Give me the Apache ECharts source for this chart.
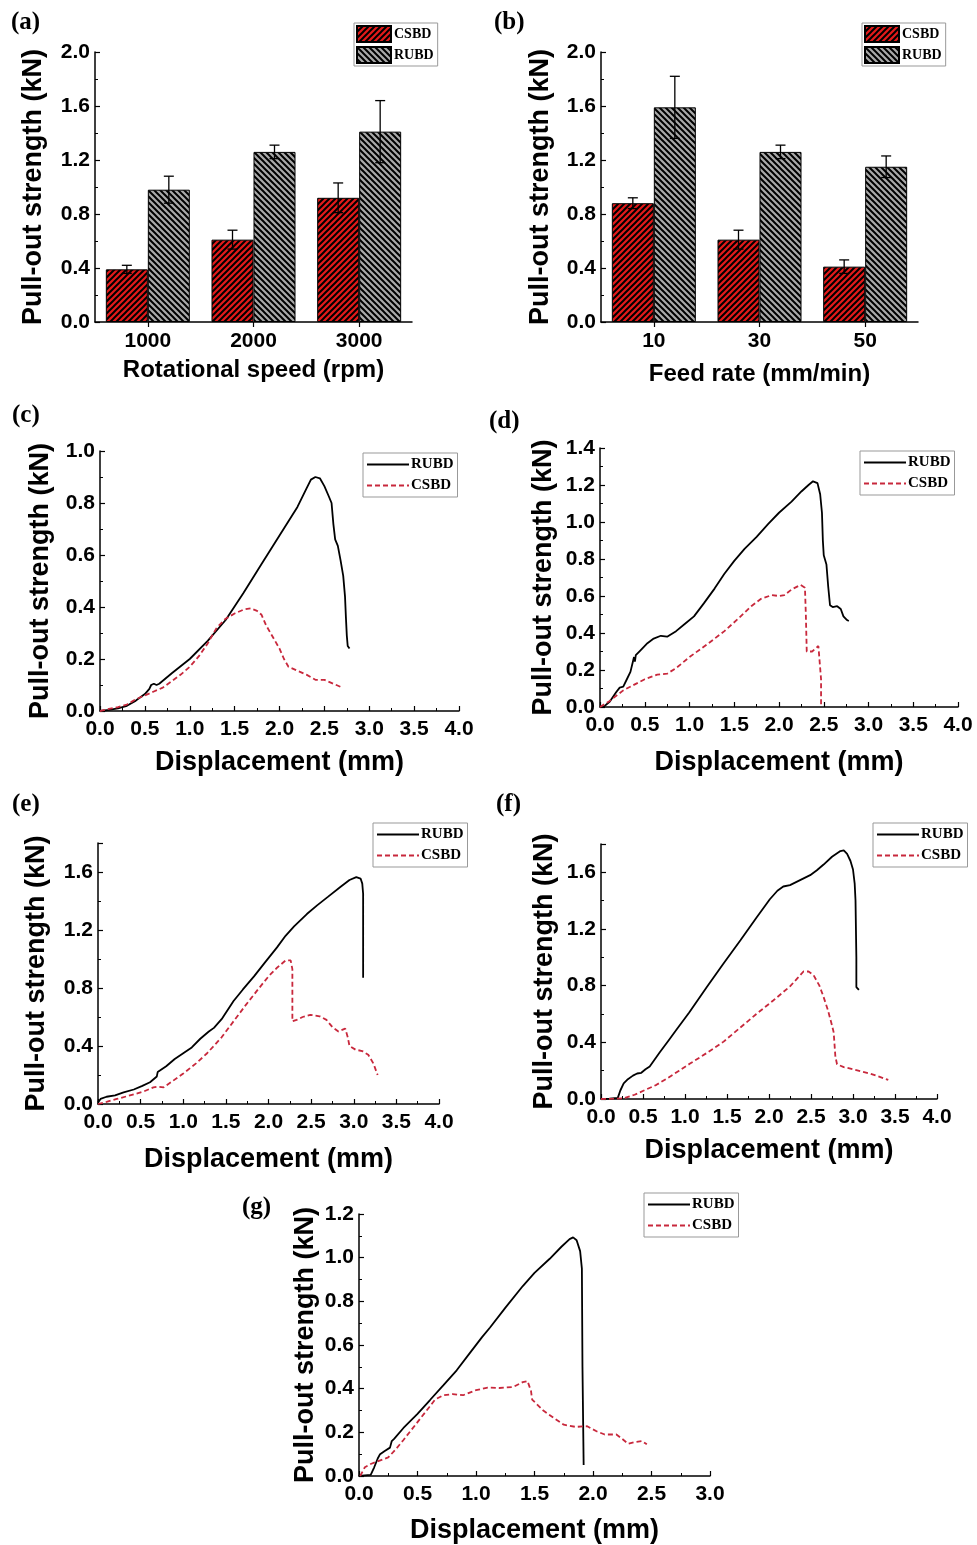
<!DOCTYPE html>
<html>
<head>
<meta charset="utf-8">
<script src="https://cdn.jsdelivr.net/npm/echarts@6/dist/echarts.min.js"></script>
<style>
  html, body { margin: 0; padding: 0; background: #fff; }
  #main { width: 977px; height: 1545px; }
</style>
</head>
<body>
<div id="main"></div>
<script>
// ---- data ----
var speedCats = ['1000', '2000', '3000'];
var speedCSBD = [0.39, 0.61, 0.92];
var speedCSBDErr = [0.03, 0.07, 0.11];
var speedRUBD = [0.98, 1.26, 1.41];
var speedRUBDErr = [0.10, 0.05, 0.23];

var feedCats = ['10', '30', '50'];
var feedCSBD = [0.88, 0.61, 0.41];
var feedCSBDErr = [0.04, 0.07, 0.05];
var feedRUBD = [1.59, 1.26, 1.15];
var feedRUBDErr = [0.23, 0.05, 0.08];

var rubdC = [[0,0],[0.1,0.004],[0.2,0.01],[0.3,0.02],[0.4,0.04],[0.5,0.065],[0.55,0.085],[0.57,0.1],[0.6,0.105],[0.63,0.1],[0.66,0.105],[0.8,0.145],[1.0,0.2],[1.2,0.27],[1.4,0.35],[1.6,0.455],[1.8,0.565],[2.0,0.675],[2.2,0.785],[2.3,0.855],[2.35,0.89],[2.4,0.9],[2.45,0.895],[2.5,0.865],[2.55,0.825],[2.58,0.8],[2.6,0.72],[2.62,0.66],[2.65,0.635],[2.68,0.58],[2.71,0.52],[2.73,0.44],[2.74,0.36],[2.75,0.29],[2.76,0.25],[2.78,0.24]];
var csbdC = [[0,0],[0.1,0.008],[0.2,0.015],[0.3,0.025],[0.4,0.045],[0.5,0.06],[0.6,0.075],[0.7,0.09],[0.8,0.115],[0.9,0.14],[1.0,0.17],[1.1,0.21],[1.2,0.26],[1.3,0.32],[1.4,0.355],[1.5,0.375],[1.6,0.39],[1.68,0.395],[1.75,0.385],[1.8,0.37],[1.85,0.33],[1.9,0.3],[2.0,0.24],[2.05,0.2],[2.1,0.17],[2.2,0.155],[2.3,0.14],[2.4,0.12],[2.5,0.12],[2.6,0.105],[2.7,0.09]];

var rubdD = [[0,0],[0.05,0.005],[0.11,0.03],[0.18,0.08],[0.22,0.105],[0.26,0.11],[0.3,0.15],[0.34,0.19],[0.37,0.25],[0.38,0.27],[0.39,0.245],[0.4,0.28],[0.45,0.305],[0.53,0.345],[0.6,0.37],[0.68,0.385],[0.75,0.38],[0.85,0.41],[0.95,0.45],[1.05,0.49],[1.16,0.56],[1.28,0.64],[1.39,0.72],[1.5,0.79],[1.615,0.855],[1.75,0.92],[1.88,0.99],[2.0,1.05],[2.14,1.11],[2.25,1.165],[2.33,1.2],[2.38,1.22],[2.43,1.21],[2.46,1.15],[2.48,1.05],[2.49,0.9],[2.5,0.82],[2.53,0.77],[2.55,0.65],[2.57,0.55],[2.6,0.54],[2.65,0.545],[2.69,0.53],[2.72,0.49],[2.76,0.47],[2.78,0.465]];
var csbdD = [[0,0],[0.1,0.03],[0.26,0.09],[0.4,0.125],[0.5,0.15],[0.64,0.175],[0.75,0.18],[0.85,0.21],[1.0,0.27],[1.2,0.34],[1.39,0.41],[1.55,0.48],[1.69,0.545],[1.8,0.585],[1.92,0.605],[2.0,0.6],[2.06,0.605],[2.14,0.635],[2.24,0.66],[2.29,0.645],[2.3,0.5],[2.31,0.3],[2.37,0.3],[2.44,0.33],[2.46,0.325],[2.47,0.15],[2.47,0]];

var rubdE = [[0,0.01],[0.03,0.035],[0.1,0.05],[0.2,0.06],[0.3,0.08],[0.42,0.1],[0.52,0.125],[0.61,0.15],[0.69,0.19],[0.7,0.22],[0.72,0.215],[0.8,0.26],[0.9,0.31],[1.0,0.35],[1.1,0.39],[1.2,0.45],[1.3,0.5],[1.36,0.525],[1.45,0.585],[1.59,0.71],[1.7,0.79],[1.83,0.88],[1.95,0.97],[2.1,1.08],[2.2,1.16],[2.3,1.225],[2.45,1.31],[2.57,1.37],[2.7,1.43],[2.85,1.5],[2.95,1.545],[3.03,1.565],[3.08,1.555],[3.1,1.52],[3.11,1.45],[3.11,0.87]];
var csbdE = [[0,0],[0.1,0.015],[0.22,0.035],[0.35,0.055],[0.54,0.087],[0.65,0.115],[0.7,0.12],[0.77,0.115],[0.88,0.16],[1.0,0.21],[1.15,0.28],[1.28,0.35],[1.45,0.46],[1.59,0.57],[1.73,0.68],[1.87,0.785],[2.0,0.88],[2.1,0.94],[2.2,0.99],[2.26,0.99],[2.28,0.93],[2.28,0.57],[2.33,0.58],[2.4,0.6],[2.49,0.615],[2.6,0.605],[2.68,0.58],[2.75,0.53],[2.82,0.5],[2.9,0.52],[2.93,0.46],[2.95,0.4],[3.02,0.375],[3.1,0.365],[3.17,0.34],[3.23,0.28],[3.28,0.2]];

var rubdF = [[0,0],[0.1,0.002],[0.2,0.008],[0.23,0.06],[0.27,0.11],[0.32,0.14],[0.38,0.165],[0.43,0.18],[0.48,0.185],[0.53,0.21],[0.58,0.23],[0.7,0.33],[0.8,0.41],[0.9,0.49],[1.05,0.61],[1.26,0.79],[1.45,0.95],[1.66,1.12],[1.85,1.28],[2.01,1.41],[2.1,1.47],[2.17,1.5],[2.25,1.51],[2.37,1.545],[2.49,1.58],[2.57,1.615],[2.65,1.655],[2.75,1.71],[2.85,1.75],[2.89,1.755],[2.93,1.73],[2.97,1.68],[3.0,1.62],[3.02,1.52],[3.03,1.4],[3.04,1.0],[3.04,0.79],[3.07,0.77]];
var csbdF = [[0,0],[0.15,0.002],[0.27,0.005],[0.4,0.03],[0.53,0.065],[0.66,0.1],[0.8,0.15],[0.93,0.2],[1.06,0.25],[1.26,0.325],[1.46,0.405],[1.65,0.5],[1.85,0.6],[2.05,0.695],[2.25,0.795],[2.35,0.86],[2.41,0.9],[2.47,0.9],[2.53,0.875],[2.6,0.8],[2.65,0.72],[2.7,0.63],[2.75,0.52],[2.77,0.47],[2.79,0.3],[2.81,0.245],[2.89,0.225],[3.0,0.21],[3.1,0.195],[3.2,0.18],[3.3,0.16],[3.42,0.135]];

var rubdG = [[0,0],[0.05,0.003],[0.1,0.005],[0.13,0.04],[0.16,0.08],[0.18,0.1],[0.22,0.115],[0.265,0.13],[0.28,0.16],[0.3,0.17],[0.38,0.22],[0.5,0.285],[0.607,0.348],[0.72,0.415],[0.835,0.484],[0.95,0.565],[1.05,0.635],[1.12,0.68],[1.25,0.77],[1.4,0.87],[1.5,0.93],[1.63,0.995],[1.73,1.05],[1.8,1.085],[1.83,1.093],[1.86,1.08],[1.89,1.03],[1.905,0.95],[1.91,0.5],[1.92,0.05]];
var csbdG = [[0.01,0],[0.05,0.04],[0.1,0.055],[0.15,0.065],[0.2,0.075],[0.25,0.085],[0.31,0.12],[0.38,0.165],[0.49,0.24],[0.6,0.315],[0.65,0.35],[0.72,0.37],[0.8,0.375],[0.89,0.37],[1.0,0.393],[1.1,0.405],[1.2,0.403],[1.32,0.408],[1.4,0.43],[1.44,0.435],[1.47,0.39],[1.48,0.35],[1.575,0.3],[1.68,0.26],[1.75,0.235],[1.85,0.225],[1.95,0.228],[2.03,0.205],[2.1,0.19],[2.2,0.19],[2.25,0.17],[2.3,0.148],[2.35,0.155],[2.42,0.16],[2.46,0.145]];

// ---- styles ----
var SANS = 'Liberation Sans, Arial, sans-serif';
var SERIF = 'Liberation Serif, Times New Roman, serif';
var RED_LINE = '#c8283c';

function hatch(bg, forward) {
  var s = 6;
  var c = document.createElement('canvas');
  c.width = s; c.height = s;
  var ctx = c.getContext('2d');
  ctx.fillStyle = bg;
  ctx.fillRect(0, 0, s, s);
  ctx.strokeStyle = '#000';
  ctx.lineWidth = 2;
  ctx.beginPath();
  if (forward) {
    ctx.moveTo(0, s); ctx.lineTo(s, 0);
    ctx.moveTo(-1, 1); ctx.lineTo(1, -1);
    ctx.moveTo(s - 1, s + 1); ctx.lineTo(s + 1, s - 1);
  } else {
    ctx.moveTo(0, 0); ctx.lineTo(s, s);
    ctx.moveTo(s - 1, -1); ctx.lineTo(s + 1, 1);
    ctx.moveTo(-1, s - 1); ctx.lineTo(1, s + 1);
  }
  ctx.stroke();
  return { image: c, repeat: 'repeat' };
}
var redHatch = hatch('#e41a1a', true);
var grayHatch = hatch('#a9a9a9', false);

var grids = [
  { left: 95, top: 52, width: 317, height: 270 },
  { left: 601, top: 52, width: 317, height: 270 },
  { left: 100, top: 451, width: 359, height: 260 },
  { left: 600, top: 448, width: 358, height: 259 },
  { left: 98, top: 843, width: 341, height: 261 },
  { left: 601, top: 844, width: 336, height: 255 },
  { left: 359, top: 1214, width: 351, height: 264 }
];

var axisLine = { show: true, lineStyle: { color: '#000', width: 1.5 } };
var labelFont = { color: '#000', fontFamily: SANS, fontWeight: 'bold', fontSize: 21 };
var nameFont = { color: '#000', fontFamily: SANS, fontWeight: 'bold', fontSize: 27 };

function fmt(v) { return v.toFixed(1); }

function yAxisFor(i, max, interval, gap, hideMax) {
  return {
    type: 'value', gridIndex: i, min: 0, max: max, interval: interval,
    name: 'Pull-out strength (kN)', nameLocation: 'middle', nameGap: gap,
    nameTextStyle: nameFont,
    axisLine: axisLine,
    axisTick: { show: true, inside: true, length: 5, lineStyle: { color: '#000', width: 1.2 } },
    minorTick: { show: true, splitNumber: 2, length: 3, lineStyle: { color: '#000', width: 1 } },
    axisLabel: Object.assign({ margin: 5, formatter: fmt, showMaxLabel: !hideMax }, labelFont),
    splitLine: { show: false }
  };
}

function xDispAxis(i, max, gap) {
  return {
    type: 'value', gridIndex: i, min: 0, max: max, interval: 0.5,
    name: 'Displacement (mm)', nameLocation: 'middle', nameGap: gap,
    nameTextStyle: nameFont,
    axisLine: axisLine,
    axisTick: { show: true, inside: true, length: 5, lineStyle: { color: '#000', width: 1.2 } },
    minorTick: { show: true, splitNumber: 2, length: 3, lineStyle: { color: '#000', width: 1 } },
    axisLabel: Object.assign({ margin: 8, formatter: fmt }, labelFont),
    splitLine: { show: false }
  };
}

function xCatAxis(i, cats, name, gap) {
  return {
    type: 'category', gridIndex: i, data: cats,
    name: name, nameLocation: 'middle', nameGap: gap,
    nameTextStyle: Object.assign({}, nameFont, { fontSize: 24 }),
    axisLine: axisLine,
    axisTick: { show: true, alignWithLabel: true, length: 5, lineStyle: { color: '#000', width: 1.2 } },
    axisLabel: Object.assign({ margin: 9 }, labelFont)
  };
}

var BAR_W = 42;
function barSeries(i, name, vals, color) {
  return {
    type: 'bar', name: name, xAxisIndex: i, yAxisIndex: i, data: vals,
    barWidth: BAR_W, barGap: '0%',
    itemStyle: { color: color, borderColor: '#000', borderWidth: 1 }
  };
}

function errSeries(i, name, vals, errs, side) {
  var rows = vals.map(function (v, k) { return [k, v - errs[k], v + errs[k]]; });
  return {
    type: 'custom', name: name + '-err', xAxisIndex: i, yAxisIndex: i, z: 5,
    data: rows,
    renderItem: function (params, api) {
      var lo = api.coord([api.value(0), api.value(1)]);
      var hi = api.coord([api.value(0), api.value(2)]);
      var x = lo[0] + side * BAR_W / 2;
      var st = { stroke: '#000', lineWidth: 1.3 };
      return {
        type: 'group',
        children: [
          { type: 'line', shape: { x1: x, y1: lo[1], x2: x, y2: hi[1] }, style: st },
          { type: 'line', shape: { x1: x - 5, y1: hi[1], x2: x + 5, y2: hi[1] }, style: st },
          { type: 'line', shape: { x1: x - 5, y1: lo[1], x2: x + 5, y2: lo[1] }, style: st }
        ]
      };
    }
  };
}

// line series get a "-line" suffix so their legends don't pick up the bar icons
function lineSeries(i, name, pts, dashed) {
  return {
    type: 'line', name: name + '-line', xAxisIndex: i, yAxisIndex: i, data: pts,
    symbol: 'none', smooth: false,
    lineStyle: dashed ? { color: RED_LINE, width: 1.8, type: [5, 3] } : { color: '#000', width: 1.8 },
    itemStyle: { color: dashed ? RED_LINE : '#000' }
  };
}

function stripName(n) { return n.split('-')[0]; }

function barLegend(left, top) {
  return {
    left: left, top: top, orient: 'vertical', data: ['CSBD', 'RUBD'], icon: 'rect',
    itemWidth: 34, itemHeight: 16, itemGap: 3, padding: [2, 4, 2, 2],
    borderColor: '#999', borderWidth: 1, backgroundColor: '#fff',
    selectedMode: false, formatter: stripName,
    textStyle: { color: '#000', fontFamily: SERIF, fontWeight: 'bold', fontSize: 14, padding: [0, 0, 0, -2] }
  };
}
function lineLegend(left, top) {
  return {
    left: left, top: top, orient: 'vertical', data: ['RUBD-line', 'CSBD-line'],
    itemWidth: 42, itemHeight: 14, itemGap: 6, padding: [4, 4, 4, 3],
    borderColor: '#999', borderWidth: 1, backgroundColor: '#fff',
    selectedMode: false, formatter: stripName,
    itemStyle: { opacity: 0 },   // hide the marker dot, keep just the line
    textStyle: { color: '#000', fontFamily: SERIF, fontWeight: 'bold', fontSize: 15, padding: [0, 0, 0, -3] }
  };
}

function panelTitle(text, left, top) {
  return { text: text, left: left, top: top, padding: 0,
    textStyle: { color: '#000', fontFamily: SERIF, fontWeight: 'bold', fontSize: 25 } };
}

var option = {
  animation: false,
  backgroundColor: '#fff',
  title: [
    panelTitle('(a)', 11, 10), panelTitle('(b)', 494, 10),
    panelTitle('(c)', 12, 403), panelTitle('(d)', 489, 409),
    panelTitle('(e)', 12, 792), panelTitle('(f)', 496, 792),
    panelTitle('(g)', 242, 1195)
  ],
  legend: [
    barLegend(354, 23), barLegend(862, 23),
    lineLegend(363, 453), lineLegend(860, 451),
    lineLegend(373, 823), lineLegend(873, 823),
    lineLegend(644, 1193)
  ],
  grid: grids,
  xAxis: [
    xCatAxis(0, speedCats, 'Rotational speed (rpm)', 36),
    xCatAxis(1, feedCats, 'Feed rate (mm/min)', 40),
    xDispAxis(2, 4, 38), xDispAxis(3, 4, 42), xDispAxis(4, 4, 42),
    xDispAxis(5, 4, 38), xDispAxis(6, 3, 41)
  ],
  yAxis: [
    yAxisFor(0, 2.0, 0.4, 48, false), yAxisFor(1, 2.0, 0.4, 47, false),
    yAxisFor(2, 1.0, 0.2, 46, false), yAxisFor(3, 1.4, 0.2, 43, false),
    yAxisFor(4, 1.8, 0.4, 48, true), yAxisFor(5, 1.8, 0.4, 43, true),
    yAxisFor(6, 1.2, 0.2, 40, false)
  ],
  series: [
    barSeries(0, 'CSBD', speedCSBD, redHatch),
    barSeries(0, 'RUBD', speedRUBD, grayHatch),
    errSeries(0, 'CSBD', speedCSBD, speedCSBDErr, -1),
    errSeries(0, 'RUBD', speedRUBD, speedRUBDErr, 1),
    barSeries(1, 'CSBD', feedCSBD, redHatch),
    barSeries(1, 'RUBD', feedRUBD, grayHatch),
    errSeries(1, 'CSBD', feedCSBD, feedCSBDErr, -1),
    errSeries(1, 'RUBD', feedRUBD, feedRUBDErr, 1),
    lineSeries(2, 'RUBD', rubdC, false), lineSeries(2, 'CSBD', csbdC, true),
    lineSeries(3, 'RUBD', rubdD, false), lineSeries(3, 'CSBD', csbdD, true),
    lineSeries(4, 'RUBD', rubdE, false), lineSeries(4, 'CSBD', csbdE, true),
    lineSeries(5, 'RUBD', rubdF, false), lineSeries(5, 'CSBD', csbdF, true),
    lineSeries(6, 'RUBD', rubdG, false), lineSeries(6, 'CSBD', csbdG, true)
  ]
};

var myChart = echarts.init(document.getElementById('main'), null, { renderer: 'canvas' });
myChart.setOption(option);
</script>
</body>
</html>
